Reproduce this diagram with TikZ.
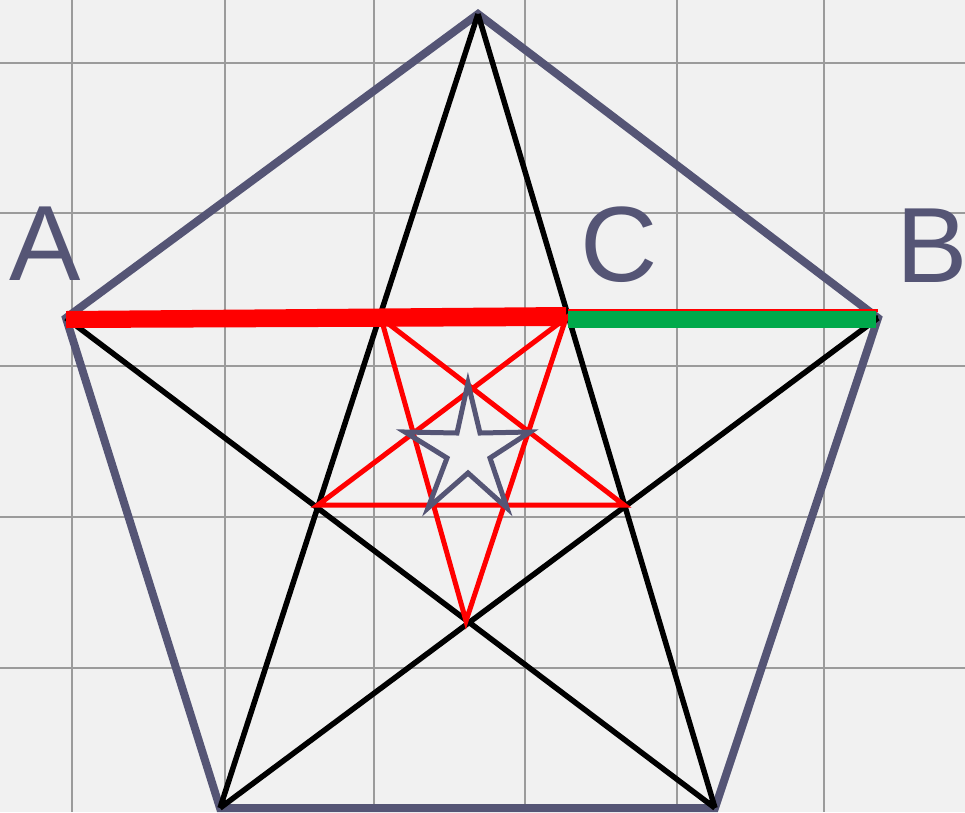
\documentclass[tikz,border=0pt]{standalone}
\usepackage{fontspec}
\setmainfont{Liberation Sans}
\definecolor{bgc}{RGB}{241,241,241}
\definecolor{gridc}{RGB}{155,155,155}
\definecolor{penc}{RGB}{85,85,117}
\definecolor{grn}{RGB}{0,170,75}
\begin{document}
\begin{tikzpicture}[x=1pt,y=-1pt,
  gridline/.style={gridc,line width=2pt},
  penline/.style={penc,line width=8pt,line join=miter},
  starline/.style={black,line width=5.5pt},
  redline/.style={red,line width=5pt},
  lbl/.style={penc,inner sep=0pt,anchor=base west,font=\fontsize{107}{107}\selectfont}]
\useasboundingbox (0,0) rectangle (965,812);
\clip (0,0) rectangle (965,812);
\fill[bgc] (0,0) rectangle (965,812);
% grid
\foreach \x in {72,225,374,525,677,824} \draw[gridline] (\x,0) -- (\x,812);
\foreach \y in {63,213,366,517,668} \draw[gridline] (0,\y) -- (965,\y);
% vertices
\coordinate (T) at (478,14);
\coordinate (A) at (66,318);
\coordinate (B) at (878,318);
\coordinate (L) at (220,808);
\coordinate (R) at (715,808);
\coordinate (P1) at (381,318);
\coordinate (P2) at (566,318);
\coordinate (P3) at (624,505);
\coordinate (P4) at (466,621);
\coordinate (P5) at (318,505);
% pentagon
\draw[penline] (T) -- (B) -- (R) -- (L) -- (A) -- cycle;
% pentagram
\draw[starline] (T) -- (L) (T) -- (R) (A) -- (R) (B) -- (L) (A) -- (B);
% red inner star
\draw[redline] (P1) -- (P3) -- (P5) -- (P2) -- (P4) -- cycle;
% gray small star
\draw[penc,line width=5pt,line join=miter]
  (468,383) -- (480,433) -- (530,432) -- (490,458) -- (507,508) -- (468,473)
  -- (428,508) -- (447,458) -- (405,432) -- (457,433) -- cycle;
% segment AC and CB
\coordinate (c1) at (568,310);
\coordinate (b1) at (878,310);
\draw[red,line width=3pt] (c1) -- (b1);
\fill[grn] (568,311) rectangle (876,328);
\fill[red] (66,311) -- (566,307) -- (566,326) -- (66,328) -- cycle;
% labels
\node[lbl] (la) at (9,280) {A};
\node[lbl] (lc) at (580,281) {C};
\node[lbl] (lb) at (896,282) {B};
\end{tikzpicture}
\end{document}
